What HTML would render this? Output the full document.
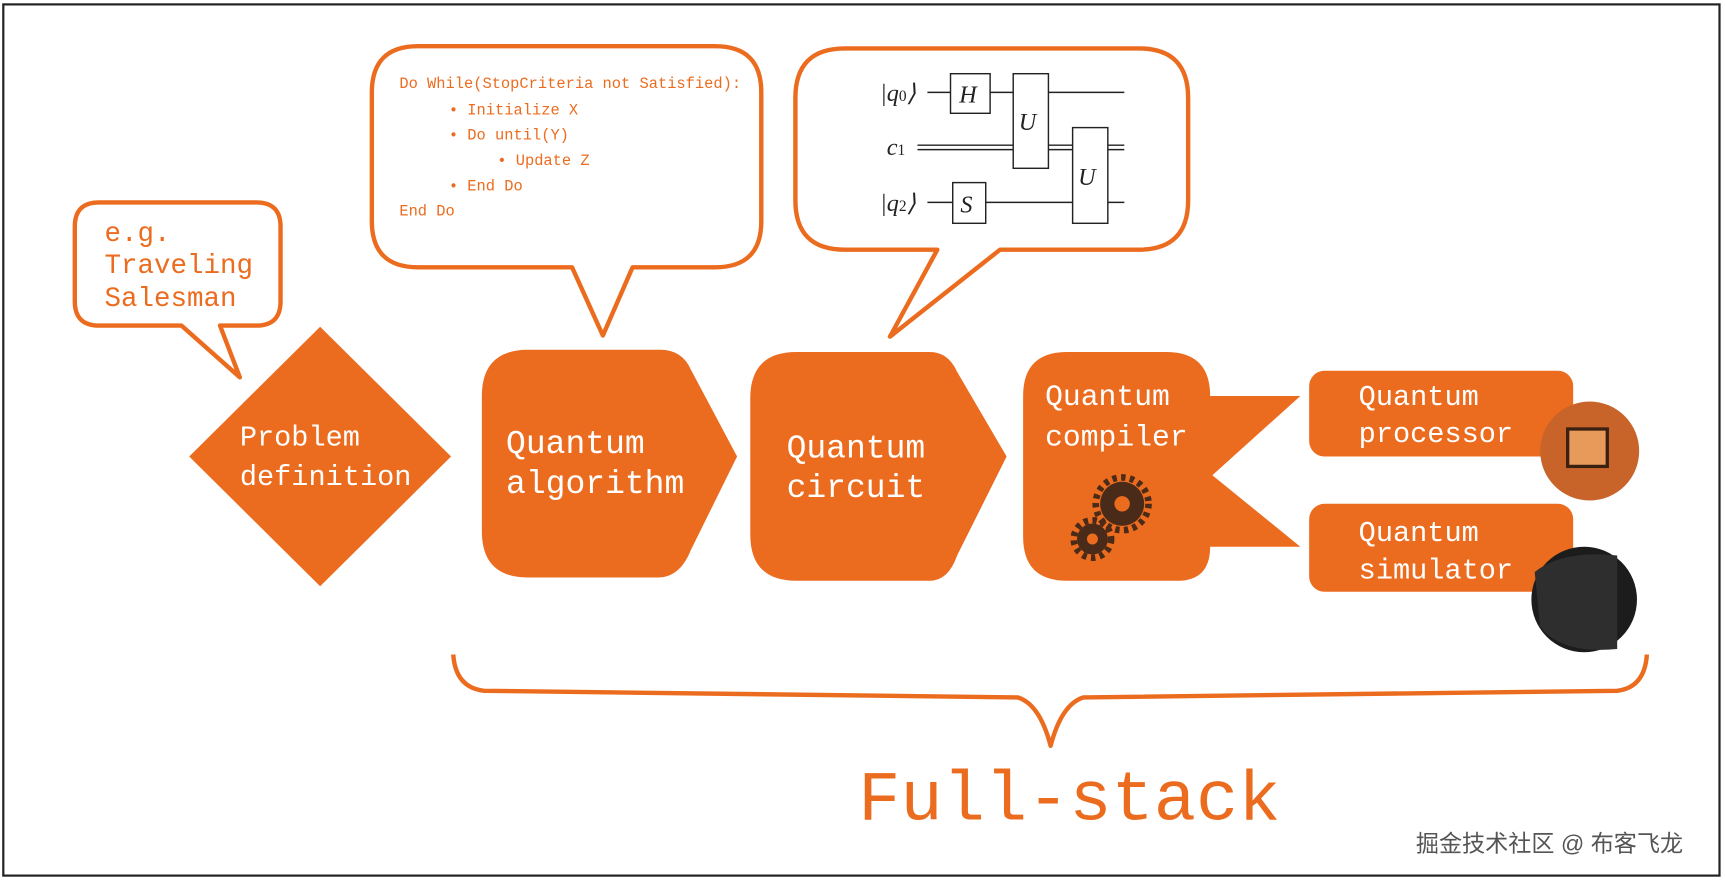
<!DOCTYPE html>
<html><head><meta charset="utf-8"><style>
html,body{margin:0;padding:0;background:#fff}
svg{display:block}
.m{font-family:"Liberation Mono",monospace}
</style></head><body>
<svg width="1725" height="880" viewBox="0 0 1568 800" preserveAspectRatio="none" xmlns="http://www.w3.org/2000/svg">
<rect x="0" y="0" width="1568" height="800" fill="#fff"/>
<rect x="3" y="4" width="1560" height="792" fill="none" stroke="#222" stroke-width="2"/>
<g fill="none" stroke="#ec6c1f" stroke-width="4" stroke-linejoin="round">
<!-- bubble 1 -->
<path d="M90,184 H233 Q255,184 255,206 V274 Q255,296 233,296 H200 L218,343 L165,296 H90 Q68,296 68,274 V206 Q68,184 90,184 Z"/>
<!-- bubble 2 -->
<path d="M380,42 H650 Q692,42 692,84 V201 Q692,243 650,243 H575 L548,305 L520,243 H380 Q338,243 338,201 V84 Q338,42 380,42 Z"/>
<!-- bubble 3 -->
<path d="M768,44 H1035 Q1080,44 1080,89 V182 Q1080,227 1035,227 H909 L809,306 L852,227 H768 Q723,227 723,182 V89 Q723,44 768,44 Z"/>
<!-- brace -->
<path d="M412,595 Q414,625 440,628 L925,634 Q945,640 955,678 Q965,640 985,634 L1470,628 Q1495,625 1497,595"/>
</g>
<g fill="#ec6c1f" font-family="Liberation Mono,monospace">
<text x="95" y="219" font-size="25">e.g.</text>
<text x="95" y="248" font-size="25">Traveling</text>
<text x="95" y="278" font-size="25">Salesman</text>
<g font-size="14">
<text x="363" y="80">Do While(StopCriteria not Satisfied):</text>
<text x="408" y="104">• Initialize X</text>
<text x="408" y="127">• Do until(Y)</text>
<text x="452" y="150">• Update Z</text>
<text x="408" y="173">• End Do</text>
<text x="363" y="196">End Do</text>
</g>
<text x="780" y="745" font-size="64">Full-stack</text>
</g>
<!-- circuit -->
<g stroke="#222" stroke-width="1.3" fill="none">
<line x1="843" y1="84" x2="864" y2="84"/><line x1="900" y1="84" x2="921" y2="84"/><line x1="953" y1="84" x2="1022" y2="84"/>
<line x1="834" y1="132" x2="921" y2="132"/><line x1="834" y1="136" x2="921" y2="136"/>
<line x1="953" y1="132" x2="975" y2="132"/><line x1="953" y1="136" x2="975" y2="136"/>
<line x1="1007" y1="132" x2="1022" y2="132"/><line x1="1007" y1="136" x2="1022" y2="136"/>
<line x1="843" y1="184" x2="866" y2="184"/><line x1="896" y1="184" x2="975" y2="184"/><line x1="1007" y1="184" x2="1022" y2="184"/>
<rect x="864" y="67" width="36" height="36" fill="#fff"/>
<rect x="921" y="67" width="32" height="86" fill="#fff"/>
<rect x="975" y="116" width="32" height="87" fill="#fff"/>
<rect x="866" y="166" width="30" height="37" fill="#fff"/>
</g>
<g font-family="Liberation Serif,serif" font-style="italic" fill="#222" font-size="22">
<text x="872" y="93">H</text><text x="926" y="118">U</text><text x="980" y="168">U</text><text x="873" y="193">S</text>
<text x="800" y="92">|q<tspan font-size="14" font-style="normal">0</tspan>⟩</text>
<text x="806" y="141">c<tspan font-size="14" font-style="normal">1</tspan></text>
<text x="800" y="192">|q<tspan font-size="14" font-style="normal">2</tspan>⟩</text>
</g>
<!-- flow shapes -->
<g fill="#ec6c1f">
<polygon points="291,297 410,415 291,533 172,415"/>
<path d="M480,318 H600 Q620,318 628,336 L670,415 L628,500 Q618,525 598,525 H480 Q438,525 438,483 V360 Q438,318 480,318 Z"/>
<path d="M724,320 H845 Q862,320 870,338 L915,415 L870,505 Q862,528 845,528 H724 Q682,528 682,486 V362 Q682,320 724,320 Z"/>
<path d="M970,320 H1060 Q1100,320 1100,360 H1182 L1102,432 L1182,497 H1100 Q1100,528 1070,528 H970 Q930,528 930,488 V360 Q930,320 970,320 Z"/>
<rect x="1190" y="337" width="240" height="78" rx="14"/>
<rect x="1190" y="458" width="240" height="80" rx="14"/>
</g>
<g fill="#4a2a18">
<circle cx="1020" cy="458" r="20"/><circle cx="993" cy="490" r="14"/>
</g>
<g stroke="#4a2a18" stroke-width="6" stroke-dasharray="4 4">
<circle cx="1020" cy="458" r="24" fill="none"/><circle cx="993" cy="490" r="17" fill="none"/>
</g>
<circle cx="1020" cy="458" r="7" fill="#ec6c1f"/><circle cx="993" cy="490" r="5" fill="#ec6c1f"/>
<circle cx="1445" cy="410" r="45" fill="#c8642a"/>
<rect x="1425" y="390" width="36" height="34" fill="#e89a5a" stroke="#3a2010" stroke-width="3"/>
<circle cx="1440" cy="545" r="48" fill="#1c1c1c"/>
<path d="M1395,520 Q1420,500 1470,505 L1470,590 Q1420,595 1400,570 Z" fill="#2e2e2e"/>
<g fill="#fff" font-family="Liberation Mono,monospace">
<text x="218" y="405" font-size="26">Problem</text>
<text x="218" y="441" font-size="26">definition</text>
<text x="460" y="412" font-size="30">Quantum</text>
<text x="460" y="448" font-size="30">algorithm</text>
<text x="715" y="416" font-size="30">Quantum</text>
<text x="715" y="452" font-size="30">circuit</text>
<text x="950" y="368" font-size="27">Quantum</text>
<text x="950" y="405" font-size="27">compiler</text>
<text x="1235" y="368" font-size="26">Quantum</text>
<text x="1235" y="402" font-size="26">processor</text>
<text x="1235" y="492" font-size="26">Quantum</text>
<text x="1235" y="526" font-size="26">simulator</text>
</g>
<text x="1287" y="774" font-size="21" fill="#555" font-family="Liberation Sans,Noto Sans CJK SC,sans-serif">掘金技术社区 @ 布客飞龙</text>
</svg>
</body></html>
